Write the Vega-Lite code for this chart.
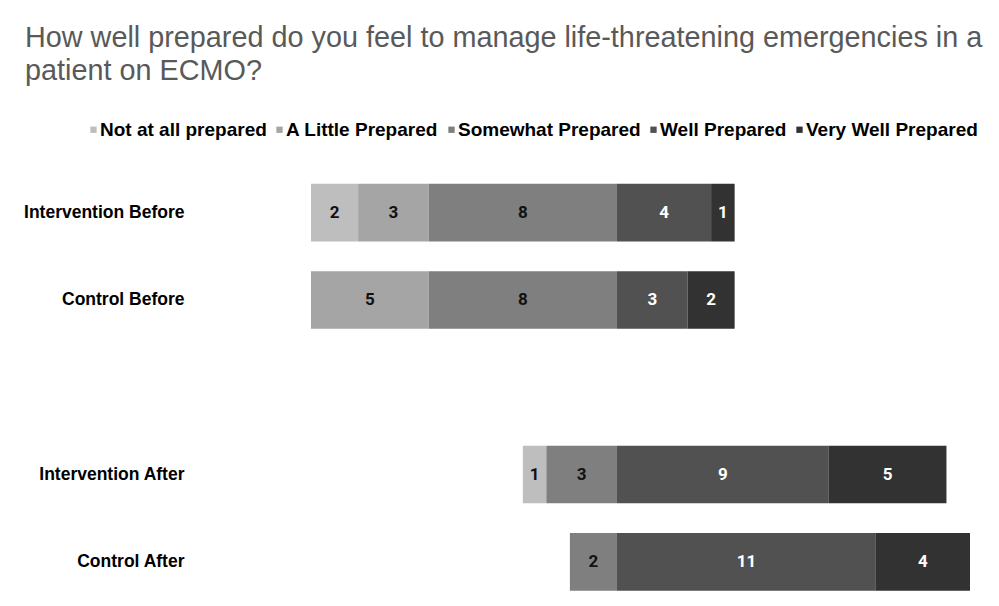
{
  "$schema": "https://vega.github.io/schema/vega-lite/v6.json",
  "autosize": {"type": "none"},
  "padding": {"left": 311, "top": 169, "right": 29, "bottom": 0},
  "width": 659,
  "height": 436.5,
  "background": "white",
  "config": {"view": {"stroke": null}},
  "title": {
    "text": ["How well prepared do you feel to manage life-threatening emergencies in a", "patient on ECMO?"],
    "anchor": "start",
    "frame": "group",
    "orient": "top",
    "font": "Liberation Sans",
    "fontSize": 28.8,
    "fontWeight": "normal",
    "color": "#595959",
    "lineHeight": 33.5,
    "dx": -286,
    "offset": 34
  },
  "data": {
    "values": [
      {"group": "Intervention Before", "response": "Not at all prepared", "ord": 3, "count": 2, "signed": -2},
      {"group": "Intervention Before", "response": "A Little Prepared", "ord": 2, "count": 3, "signed": -3},
      {"group": "Intervention Before", "response": "Somewhat Prepared", "ord": 1, "count": 8, "signed": -8},
      {"group": "Intervention Before", "response": "Well Prepared", "ord": 4, "count": 4, "signed": 4},
      {"group": "Intervention Before", "response": "Very Well Prepared", "ord": 5, "count": 1, "signed": 1},
      {"group": "Control Before", "response": "A Little Prepared", "ord": 2, "count": 5, "signed": -5},
      {"group": "Control Before", "response": "Somewhat Prepared", "ord": 1, "count": 8, "signed": -8},
      {"group": "Control Before", "response": "Well Prepared", "ord": 4, "count": 3, "signed": 3},
      {"group": "Control Before", "response": "Very Well Prepared", "ord": 5, "count": 2, "signed": 2},
      {"group": "Intervention After", "response": "Not at all prepared", "ord": 3, "count": 1, "signed": -1},
      {"group": "Intervention After", "response": "Somewhat Prepared", "ord": 1, "count": 3, "signed": -3},
      {"group": "Intervention After", "response": "Well Prepared", "ord": 4, "count": 9, "signed": 9},
      {"group": "Intervention After", "response": "Very Well Prepared", "ord": 5, "count": 5, "signed": 5},
      {"group": "Control After", "response": "Somewhat Prepared", "ord": 1, "count": 2, "signed": -2},
      {"group": "Control After", "response": "Well Prepared", "ord": 4, "count": 11, "signed": 11},
      {"group": "Control After", "response": "Very Well Prepared", "ord": 5, "count": 4, "signed": 4}
    ]
  },
  "encoding": {
    "y": {
      "field": "group",
      "type": "nominal",
      "scale": {
        "domain": ["Intervention Before", "Control Before", " ", "Intervention After", "Control After"],
        "paddingInner": 0.34,
        "paddingOuter": 0.17
      },
      "axis": {
        "title": null,
        "ticks": false,
        "domain": false,
        "labelPadding": 127,
        "labelFont": "Liberation Sans",
        "labelFontWeight": "bold",
        "labelFontSize": 17.5,
        "labelColor": "#000000"
      }
    },
    "order": {"field": "ord", "type": "quantitative"}
  },
  "layer": [
    {
      "mark": {"type": "bar"},
      "encoding": {
        "x": {
          "field": "signed",
          "type": "quantitative",
          "stack": "zero",
          "scale": {"domain": [-13, 15], "nice": false, "zero": false},
          "axis": null
        },
        "color": {
          "field": "response",
          "type": "nominal",
          "scale": {
            "domain": ["Not at all prepared", "A Little Prepared", "Somewhat Prepared", "Well Prepared", "Very Well Prepared"],
            "range": ["#bebebe", "#a5a5a5", "#7f7f7f", "#515151", "#323232"]
          },
          "legend": {
            "title": null,
            "orient": "none",
            "direction": "horizontal",
            "columns": 5,
            "legendX": -227,
            "legendY": -49,
            "symbolType": "square",
            "symbolSize": 40,
            "symbolStrokeWidth": 0,
            "labelFont": "Liberation Sans",
            "labelFontWeight": "bold",
            "labelFontSize": 19,
            "labelColor": "#000000",
            "labelOffset": -3,
            "columnPadding": 3,
            "labelLimit": 400
          }
        }
      }
    },
    {
      "mark": {"type": "text", "font": "Roboto", "fontWeight": "bold", "fontSize": 17, "baseline": "middle", "align": "center"},
      "encoding": {
        "x": {
          "field": "signed",
          "type": "quantitative",
          "stack": "zero",
          "bandPosition": 0.5
        },
        "text": {"field": "count", "type": "quantitative"},
        "color": {
          "condition": {"test": "datum.ord >= 4", "value": "#ffffff"},
          "value": "#111111"
        }
      }
    }
  ]
}
